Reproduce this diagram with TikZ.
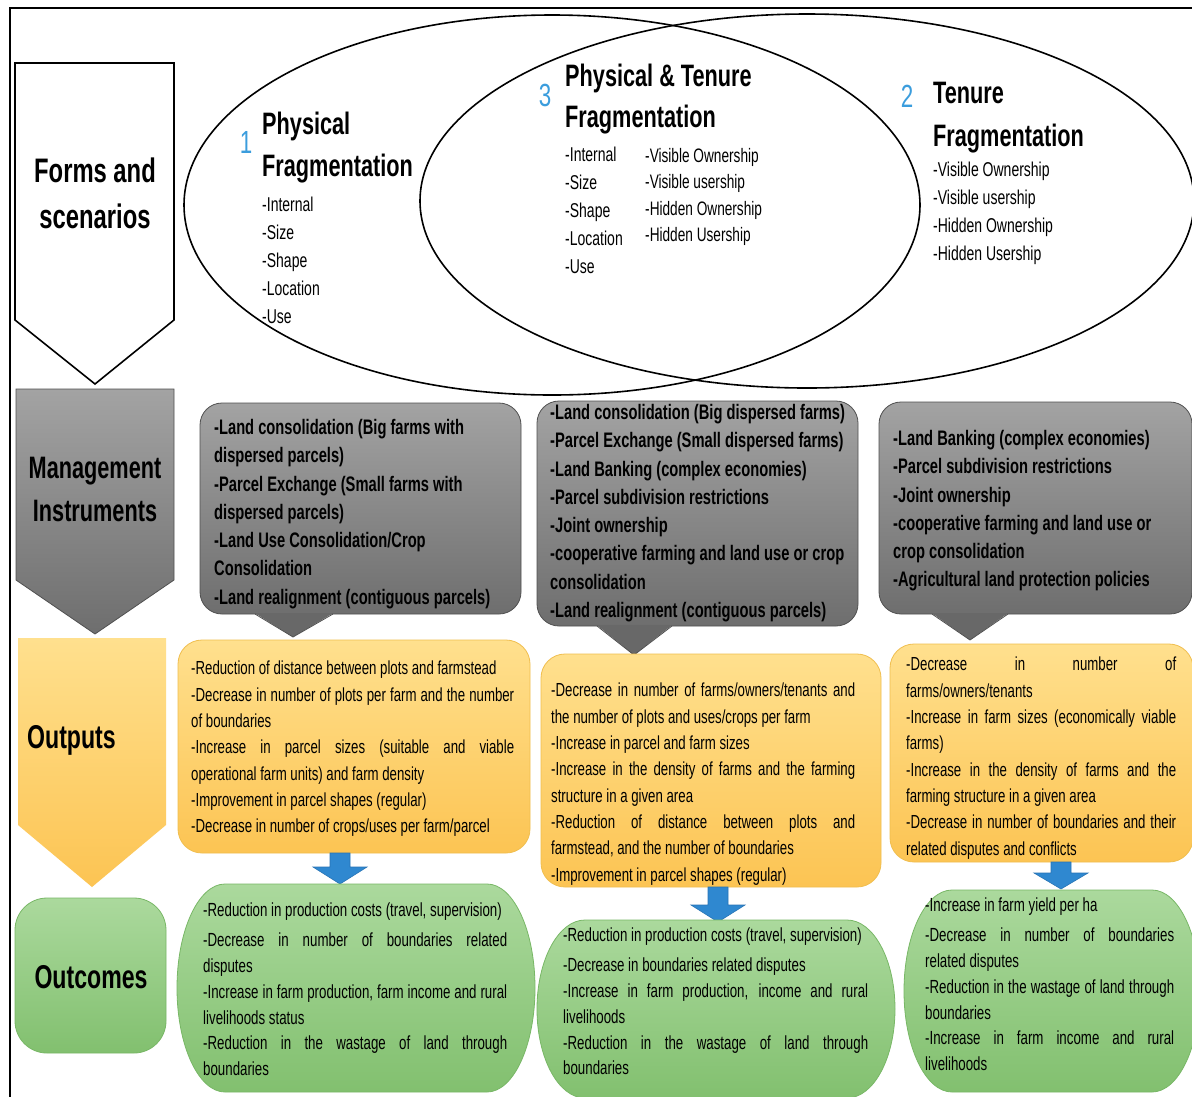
\documentclass[tikz,border=0pt]{standalone}
\usepackage{fontspec}
\setmainfont{Liberation Sans}[FakeStretch=0.7]
\setlength{\parindent}{0pt}
\usetikzlibrary{calc}

\definecolor{numblue}{HTML}{3B9DDD}
\definecolor{mgtop}{HTML}{A3A3A3}
\definecolor{mgbot}{HTML}{6E6E6E}
\definecolor{mgline}{HTML}{505050}
\definecolor{optop}{HTML}{FFE08E}
\definecolor{opbot}{HTML}{FCC453}
\definecolor{opline}{HTML}{F0BE4E}
\definecolor{octop}{HTML}{ABD99D}
\definecolor{ocbot}{HTML}{82C06F}
\definecolor{ocline}{HTML}{78B766}
\definecolor{arrblue}{HTML}{2F88D0}
\definecolor{arrline}{HTML}{2874B5}

% a justified line of the given width (in pt)
\newcommand{\jl}[2]{\makebox[#1pt][s]{#2}}
% blue block arrow pointing down: x, top, head top, tip
\newcommand{\blockdown}[4]{%
  \draw[blockarrow] (#1-10,#2) -- (#1+10,#2) -- (#1+10,#3) -- (#1+27,#3)
    -- (#1,#4) -- (#1-27,#3) -- (#1-10,#3) -- cycle;}
% elliptic-ended box: x1, y1, x2, y2, corner x radius, style
\newcommand{\pillbox}[6]{%
  \draw[#6] ($(#1,#2)+(#5,0)$) -- ($(#3,#2)-(#5,0)$)
    arc[start angle=90, end angle=-90, x radius=#5pt, y radius={(#4-#2)/2*1pt}]
    -- ($(#1,#4)+(#5,0)$)
    arc[start angle=270, end angle=90, x radius=#5pt, y radius={(#4-#2)/2*1pt}]
    -- cycle;}

\begin{document}
\begin{tikzpicture}[x=1pt,y=-1pt,
  heading/.style={anchor=north west, inner sep=0pt, align=left, font=\fontsize{31}{42}\selectfont\bfseries},
  number/.style={anchor=base, inner sep=0pt, text=numblue, font=\fontsize{32}{32}\selectfont},
  items/.style={anchor=north west, inner sep=0pt, align=left, font=\fontsize{20}{28}\selectfont},
  stage/.style={inner sep=0pt, align=center, font=\fontsize{33}{45}\selectfont\bfseries},
  mgtext/.style={anchor=north west, inner sep=0pt, align=left, font=\fontsize{21}{28.3}\selectfont\bfseries},
  optext/.style={anchor=north west, inner sep=0pt, align=left, font=\fontsize{18.9}{26.3}\selectfont},
  octext/.style={anchor=north west, inner sep=0pt, align=left, font=\fontsize{19}{25.8}\selectfont},
  venn/.style={line width=1.6pt},
  mgbox/.style={top color=mgtop, bottom color=mgbot, draw=mgline, line width=0.8pt},
  mgtip/.style={fill=mgbot!95!black},
  opbox/.style={top color=optop, bottom color=opbot, draw=opline, line width=0.8pt, rounded corners=24pt},
  ocbox/.style={top color=octop, bottom color=ocbot, draw=ocline, line width=0.8pt},
  blockarrow/.style={fill=arrblue, draw=arrline, line width=0.6pt},
]
\useasboundingbox (0,0) rectangle (1192,1096);
\fill[white] (0,0) rectangle (1192,1096);

% frame
\draw[line width=2pt] (10,1100) -- (10,8) -- (1196,8);

% ---- stage column ----
\draw[line width=1.6pt, fill=white] (15,63) -- (174,63) -- (174,320) -- (95,384) -- (15,320) -- cycle;
\draw[mgbox] (16,389) -- (174,389) -- (174,580) -- (95,634) -- (16,580) -- cycle;
\shade[top color=optop, bottom color=opbot] (18,638) -- (166,638) -- (166,825) -- (92,887) -- (18,825) -- cycle;
\draw[ocbox, rounded corners=32pt] (15,898) rectangle (166,1053);

\node[stage, font=\fontsize{34}{46}\selectfont\bfseries] (sForms) at (95,193) {Forms and\\scenarios};
\node[stage, font=\fontsize{31}{43}\selectfont\bfseries] (sMgmt) at (95,489) {Management\\Instruments};
\node[stage, anchor=west] (sOut) at (27,740) {Outputs};
\node[stage] (sOc) at (91,977) {Outcomes};

% ---- overlapping fragmentation ellipses ----
\draw[venn] (552,205) ellipse [x radius=368pt, y radius=190pt];
\draw[venn] (807,201) ellipse [x radius=387pt, y radius=187pt];

\node[number] (n1) at (246,153) {1};
\node[heading] (h1) at (262,112) {Physical\\Fragmentation};
\node[items] (l1) at (262,197) {-Internal\\-Size\\-Shape\\-Location\\-Use};

\node[number] (n3) at (545,106) {3};
\node[heading, font=\fontsize{31}{41}\selectfont\bfseries] (h3) at (565,64) {Physical \& Tenure\\Fragmentation};
\node[items] (l3a) at (565,147) {-Internal\\-Size\\-Shape\\-Location\\-Use};
\node[items, font=\fontsize{19.5}{26.5}\selectfont] (l3b) at (645,148) {-Visible Ownership\\-Visible usership\\-Hidden Ownership\\-Hidden Usership};

\node[number] (n2) at (907,107) {2};
\node[heading, font=\fontsize{31}{43}\selectfont\bfseries] (h2) at (933,82) {Tenure\\Fragmentation};
\node[items] (l2) at (933,162) {-Visible Ownership\\-Visible usership\\-Hidden Ownership\\-Hidden Usership};

% ---- management instrument callouts ----
\draw[mgbox, rounded corners=22pt] (200,403) rectangle (521,614);
\fill[mgtip] (255,613.2) -- (293,637) -- (333,613.2) -- cycle;
\draw[mgline, line width=0.8pt] (255,614) -- (293,637) -- (333,614);

\draw[mgbox, rounded corners=22pt] (537,401) rectangle (858,626);
\fill[mgtip] (597,625.2) -- (634,655) -- (672,625.2) -- cycle;
\draw[mgline, line width=0.8pt] (597,626) -- (634,655) -- (672,626);

\draw[mgbox, rounded corners=22pt] (879,402) rectangle (1192,614);
\fill[mgtip] (932,613.2) -- (970,640) -- (1008,613.2) -- cycle;
\draw[mgline, line width=0.8pt] (932,614) -- (970,640) -- (1008,614);

\node[mgtext] (mA) at (214,419) {-Land consolidation (Big farms with\\dispersed parcels)\\-Parcel Exchange (Small farms with\\dispersed parcels)\\-Land Use Consolidation/Crop\\Consolidation\\-Land realignment (contiguous parcels)};
\node[mgtext] (mB) at (550,404) {-Land consolidation (Big dispersed farms)\\-Parcel Exchange (Small dispersed farms)\\-Land Banking (complex economies)\\-Parcel subdivision restrictions\\-Joint ownership\\-cooperative farming and land use or crop\\consolidation\\-Land realignment (contiguous parcels)};
\node[mgtext] (mC) at (893,430) {-Land Banking (complex economies)\\-Parcel subdivision restrictions\\-Joint ownership\\-cooperative farming and land use or\\crop consolidation\\-Agricultural land protection policies};

% ---- outputs ----
\draw[opbox] (178,640) rectangle (530,853);
\draw[opbox] (541,654) rectangle (881,887);
\draw[opbox] (890,644) rectangle (1193,862);

\node[optext] (oA) at (191,661) {-Reduction of distance between plots and farmstead\\\jl{323}{-Decrease in number of plots per farm and the number}\\of boundaries\\\jl{323}{-Increase in parcel sizes (suitable and viable}\\operational farm units) and farm density\\-Improvement in parcel shapes (regular)\\-Decrease in number of crops/uses per farm/parcel};
\node[optext] (oB) at (551,683) {\jl{304}{-Decrease in number of farms/owners/tenants and}\\the number of plots and uses/crops per farm\\-Increase in parcel and farm sizes\\\jl{304}{-Increase in the density of farms and the farming}\\structure in a given area\\\jl{304}{-Reduction of distance between plots and}\\farmstead, and the number of boundaries\\-Improvement in parcel shapes (regular)};
\node[optext] (oC) at (906,657) {\jl{270}{-Decrease in number of}\\farms/owners/tenants\\\jl{270}{-Increase in farm sizes (economically viable}\\farms)\\\jl{270}{-Increase in the density of farms and the}\\farming structure in a given area\\\jl{270}{-Decrease in number of boundaries and their}\\related disputes and conflicts};

% ---- arrows from outputs to outcomes ----
\blockdown{340}{853}{867}{884}
\blockdown{718}{887}{905}{922}
\blockdown{1061}{862}{873}{889}

% ---- outcomes ----
\pillbox{177}{884}{535}{1092}{48}{ocbox}
\pillbox{537}{920}{895}{1098}{48}{ocbox}
\pillbox{904}{890}{1200}{1092}{48}{ocbox}

\node[octext] (cA) at (203,903) {-Reduction in production costs (travel, supervision)\\[4pt]\jl{304}{-Decrease in number of boundaries related}\\disputes\\\jl{304}{-Increase in farm production, farm income and rural}\\livelihoods status\\\jl{304}{-Reduction in the wastage of land through}\\boundaries};
\node[octext] (cB) at (563,928) {-Reduction in production costs (travel, supervision)\\[4pt]-Decrease in boundaries related disputes\\\jl{305}{-Increase in farm production, income and rural}\\livelihoods\\\jl{305}{-Reduction in the wastage of land through}\\boundaries};
\node[octext] (cC) at (925,898) {-Increase in farm yield per ha\\[4pt]\jl{249}{-Decrease in number of boundaries}\\related disputes\\\jl{249}{-Reduction in the wastage of land through}\\boundaries\\\jl{249}{-Increase in farm income and rural}\\livelihoods};

\end{tikzpicture}
\end{document}
